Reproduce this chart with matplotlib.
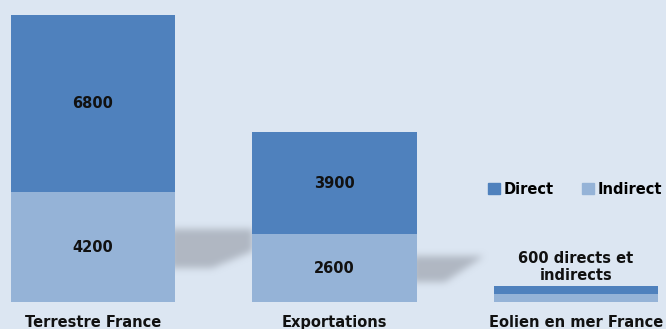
import numpy as np
import matplotlib.pyplot as plt
from matplotlib.path import Path
from matplotlib.patches import Patch

# ============================================================
# DATA
# ============================================================
categories = ["Terrestre France", "Exportations", "Eolien en mer France"]
indirect = [4200, 2600, 300]
direct = [6800, 3900, 300]
show_values = [True, True, False]
combined_note = "600 directs et\nindirects"

# ============================================================
# STYLE
# ============================================================
W, H, DPI = 666, 329, 100
BG = "#dce6f2"
C_DIRECT = "#4f81bd"
C_INDIRECT = "#95b3d7"
FS = 10.5

plt.rcParams["font.family"] = ["DejaVu Sans"]

fig = plt.figure(figsize=(W / DPI, H / DPI), dpi=DPI, facecolor=BG)


def box_blur(a, r, passes=3):
    k = np.ones(2 * r + 1) / (2 * r + 1)
    for _ in range(passes):
        a = np.apply_along_axis(lambda v: np.convolve(v, k, mode="same"), 0, a)
        a = np.apply_along_axis(lambda v: np.convolve(v, k, mode="same"), 1, a)
    return a


# soft shadows behind the bars (pixel coords, y down)
shadows = [
    [(170, 229), (253, 229), (253, 251), (212, 268), (170, 268)],
    [(412, 256), (484, 256), (445, 282), (412, 282)],
]
yy, xx = np.mgrid[0:H, 0:W]
pts = np.column_stack([xx.ravel() + 0.5, yy.ravel() + 0.5])
mask = np.zeros((H, W))
for poly in shadows:
    mask += Path(poly).contains_points(pts).reshape(H, W)
mask = box_blur(np.clip(mask, 0, 1), 3)
shadow_rgb = np.array([168, 175, 186]) / 255.0
img = np.zeros((H, W, 4))
img[..., :3] = shadow_rgb
img[..., 3] = mask * 0.85
fig.figimage(img, xo=0, yo=0, origin="upper", zorder=-1)

# ============================================================
# BARS
# ============================================================
ax = fig.add_axes([0, 27 / H, 1, 302 / H])
ax.set_facecolor("none")
ax.axis("off")

x = np.arange(len(categories))
ax.bar(x, indirect, width=0.68, color=C_INDIRECT, zorder=2)
ax.bar(x, direct, width=0.68, bottom=indirect, color=C_DIRECT, zorder=2)

ax.set_xlim(-0.385, 2.373)
ax.set_ylim(0, 11575)

for i in range(len(categories)):
    if show_values[i]:
        ax.text(x[i], indirect[i] / 2, f"{indirect[i]}", ha="center", va="center",
                fontsize=FS, fontweight="bold", color="#111111", zorder=3)
        ax.text(x[i], indirect[i] + direct[i] / 2, f"{direct[i]}", ha="center",
                va="center", fontsize=FS, fontweight="bold", color="#111111", zorder=3)
    else:
        ax.text(x[i], indirect[i] + direct[i] + 120, combined_note, ha="center",
                va="bottom", fontsize=FS, fontweight="bold", color="#111111",
                linespacing=1.15, zorder=3)
    ax.text(x[i], -780, categories[i], ha="center", va="center", fontsize=FS,
            fontweight="bold", color="#111111", clip_on=False)

handles = [Patch(color=C_DIRECT, label="Direct"), Patch(color=C_INDIRECT, label="Indirect")]
leg = fig.legend(handles=handles, loc="center left", ncol=2, frameon=False,
                 bbox_to_anchor=(488 / W, 1 - 189 / H), borderpad=0, borderaxespad=0,
                 handlelength=0.85, handleheight=0.85, handletextpad=0.25,
                 columnspacing=1.9, prop={"weight": "bold", "size": FS})

fig.savefig("out.png", dpi=DPI, facecolor=BG)
